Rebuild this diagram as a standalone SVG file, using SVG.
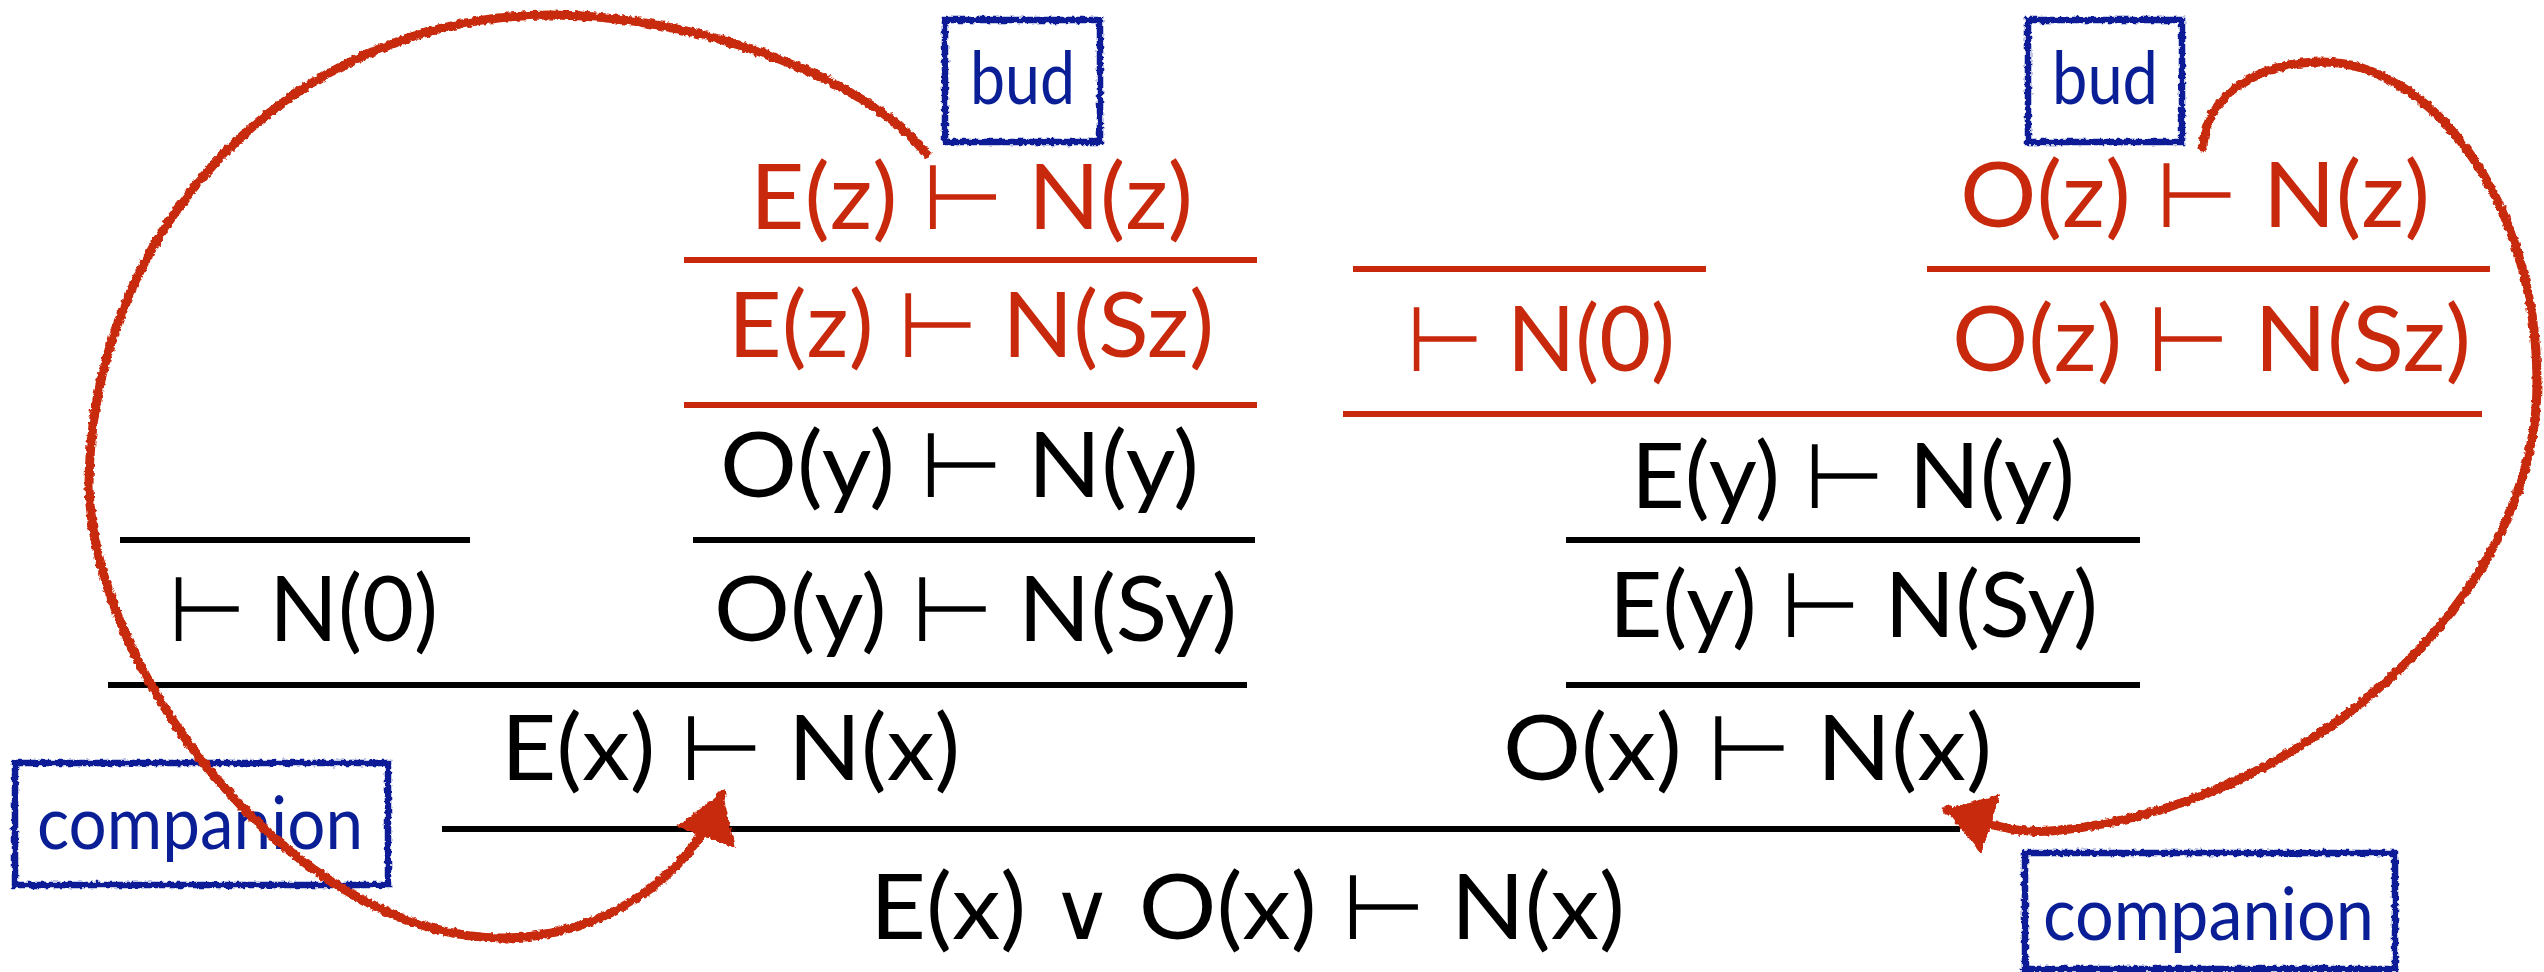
<svg xmlns="http://www.w3.org/2000/svg" width="2544" height="972" viewBox="0 0 2544 972">
<defs>
<style>
text{font-family:Lato,"DejaVu Sans","Noto Sans",sans-serif}
.f{font-size:91px}
.sym{font-family:"DejaVu Sans",sans-serif;font-weight:200;font-size:80px}
.red{fill:#C8290C}
.blk{fill:#000}
.lbl{font-size:73px;fill:#0A1E96}
.rr{stroke:#C8290C;stroke-width:6;fill:none}
.rb{stroke:#000;stroke-width:6;fill:none}
.box{fill:none;stroke:#0A1E96;stroke-width:6.5}
.arr{fill:none;stroke:#C8290C;stroke-width:9;stroke-linecap:round}
</style>
<filter id="rough" filterUnits="userSpaceOnUse" x="0" y="0" width="2544" height="972">
<feTurbulence type="fractalNoise" baseFrequency="0.22" numOctaves="2" seed="4" result="n"/>
<feDisplacementMap in="SourceGraphic" in2="n" scale="5" xChannelSelector="R" yChannelSelector="G"/>
</filter>
<marker id="ah" markerUnits="userSpaceOnUse" markerWidth="60" markerHeight="64" refX="46" refY="31" orient="auto" viewBox="0 0 60 62">
<path d="M0 0 L48 31 L0 62 Z" fill="#C8290C"/>
</marker>
</defs>
<rect x="0" y="0" width="2544" height="972" fill="#fff"/>

<g id="rules">
<line class="rr" x1="684" y1="260" x2="1257" y2="260"/>
<line class="rr" x1="684" y1="405" x2="1257" y2="405"/>
<line class="rb" x1="693" y1="540" x2="1255" y2="540"/>
<line class="rb" x1="120" y1="540" x2="470" y2="540"/>
<line class="rb" x1="108" y1="685" x2="1247" y2="685"/>
<line class="rb" x1="442" y1="829" x2="1960" y2="829"/>
<line class="rr" x1="1927" y1="269" x2="2490" y2="269"/>
<line class="rr" x1="1353" y1="269" x2="1706" y2="269"/>
<line class="rr" x1="1343" y1="414" x2="2482" y2="414"/>
<line class="rb" x1="1566" y1="540" x2="2140" y2="540"/>
<line class="rb" x1="1566" y1="685" x2="2140" y2="685"/>
</g>

<g id="n-Ez-Nz"><text class="f red" x="750" y="229" textLength="443" lengthAdjust="spacingAndGlyphs">E(z) ⊢ N(z)</text></g>
<g id="n-Ez-NSz"><text class="f red" x="728" y="357" textLength="486" lengthAdjust="spacingAndGlyphs">E(z) ⊢ N(Sz)</text></g>
<g id="n-Oy-Ny"><text class="f blk" x="720" y="497" textLength="479" lengthAdjust="spacingAndGlyphs">O(y) ⊢ N(y)</text></g>
<g id="n-N0-left"><text class="f blk" x="168" y="641" textLength="270" lengthAdjust="spacingAndGlyphs">⊢ N(0)</text></g>
<g id="n-Oy-NSy"><text class="f blk" x="714" y="641" textLength="523" lengthAdjust="spacingAndGlyphs">O(y) ⊢ N(Sy)</text></g>
<g id="n-Ex-Nx"><text class="f blk" x="501" y="780" textLength="459" lengthAdjust="spacingAndGlyphs">E(x) ⊢ N(x)</text></g>
<g id="n-root"><text class="f blk" x="870" y="939" textLength="755" lengthAdjust="spacingAndGlyphs">E(x) <tspan class="sym">∨</tspan> O(x) ⊢ N(x)</text></g>
<g id="n-Oz-Nz"><text class="f red" x="1960" y="227" textLength="470" lengthAdjust="spacingAndGlyphs">O(z) ⊢ N(z)</text></g>
<g id="n-N0-right"><text class="f red" x="1406" y="371" textLength="269" lengthAdjust="spacingAndGlyphs">⊢ N(0)</text></g>
<g id="n-Oz-NSz"><text class="f red" x="1952" y="371" textLength="519" lengthAdjust="spacingAndGlyphs">O(z) ⊢ N(Sz)</text></g>
<g id="n-Ey-Ny"><text class="f blk" x="1631" y="508" textLength="444" lengthAdjust="spacingAndGlyphs">E(y) ⊢ N(y)</text></g>
<g id="n-Ey-NSy"><text class="f blk" x="1609" y="637" textLength="489" lengthAdjust="spacingAndGlyphs">E(y) ⊢ N(Sy)</text></g>
<g id="n-Ox-Nx"><text class="f blk" x="1503" y="780" textLength="489" lengthAdjust="spacingAndGlyphs">O(x) ⊢ N(x)</text></g>

<g id="bud-left">
<rect class="box" x="945" y="20" width="155" height="122" filter="url(#rough)"/>
<text class="lbl" x="970" y="104" textLength="105" lengthAdjust="spacingAndGlyphs">bud</text>
</g>
<g id="bud-right">
<rect class="box" x="2028" y="20" width="154" height="122" filter="url(#rough)"/>
<text class="lbl" x="2052" y="104" textLength="106" lengthAdjust="spacingAndGlyphs">bud</text>
</g>
<g id="companion-left">
<rect class="box" x="15" y="763" width="373" height="122" filter="url(#rough)"/>
<text class="lbl" x="37" y="849" textLength="326" lengthAdjust="spacingAndGlyphs">companion</text>
</g>
<g id="companion-right">
<rect class="box" x="2025" y="853" width="370" height="116" filter="url(#rough)"/>
<text class="lbl" x="2043" y="940" textLength="331" lengthAdjust="spacingAndGlyphs">companion</text>
</g>

<g id="connectors" filter="url(#rough)">
<path class="arr" marker-end="url(#ah)" d="M 926 154 C 870 80, 700 15, 551 15 A 462 472 0 0 0 89 487 C 95 680, 300 938, 502 938 C 600 938, 690 880, 722 794"/>
<path class="arr" marker-end="url(#ah)" d="M 2203 147 C 2205 95, 2260 62, 2322 62 C 2430 62, 2537 200, 2537 383 C 2537 600, 2300 810, 2051 831 C 2010 834, 1985 822, 1947 810"/>
</g>
</svg>
